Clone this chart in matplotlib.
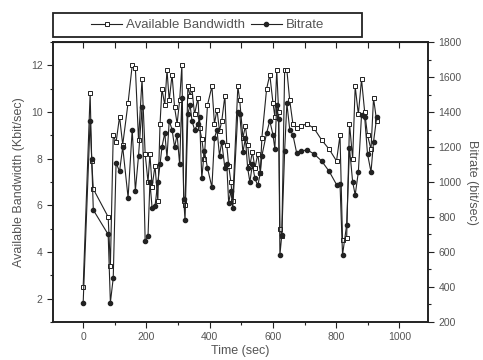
import matplotlib
matplotlib.use("Agg")
import matplotlib.pyplot as plt
from matplotlib.patches import Rectangle
from matplotlib.ticker import MultipleLocator

plt.rcParams["font.family"] = ["Liberation Sans", "DejaVu Sans"]

# values
time_sec = [0, 22, 27, 32, 79, 86, 95, 104, 115, 125, 142, 155, 165, 175, 186,
            196, 205, 211, 218, 227, 236, 243, 249, 258, 265, 272, 281, 289,
            297, 305, 312, 318, 322, 331, 338, 344, 352, 363, 368, 375, 383,
            393, 407, 415, 423, 431, 438, 448, 454, 460, 467, 473, 489, 495,
            505, 513, 520, 527, 535, 543, 552, 560, 565, 580, 590, 600, 606,
            612, 618, 622, 628, 637, 644, 653, 663, 675, 690, 707, 730, 754,
            778, 801, 812, 820, 833, 842, 852, 860, 870, 880, 890, 899, 910,
            918, 928]

bandwidth = [2.5, 10.8, 7.9, 6.7, 5.5, 3.4, 9.0, 8.7, 9.8, 8.6, 10.4, 12.0,
             11.9, 8.8, 11.4, 8.2, 7.0, 8.2, 6.8, 7.7, 6.2, 9.5, 11.0, 10.3,
             11.8, 10.5, 11.6, 10.2, 9.5, 10.5, 12.0, 6.2, 6.0, 11.1, 10.7,
             11.0, 9.9, 10.6, 9.3, 8.85, 8.0, 10.3, 11.1, 9.5, 10.1, 9.2, 9.6,
             10.7, 8.6, 7.7, 7.0, 6.2, 11.1, 10.5, 8.9, 9.4, 8.6, 7.7, 8.3,
             7.6, 8.2, 7.4, 8.9, 11.0, 11.6, 10.4, 9.8, 11.8, 10.0, 5.0, 4.7,
             11.8, 11.8, 10.5, 9.5, 9.3, 9.4, 9.5, 9.3, 8.8, 8.4, 7.9, 9.0,
             4.5, 4.6, 9.5, 8.0, 11.1, 9.9, 11.4, 10.0, 9.0, 8.4, 10.6, 9.6]

bitrate = [310, 1350, 1130, 840, 700, 310, 450, 1110, 1060, 1200, 910, 1300,
           950, 1150, 1430, 660, 690, 1000, 850, 860, 1000, 1100, 1200, 1280,
           1140, 1350, 1300, 1200, 1270, 1100, 1480, 900, 780, 1390, 1440,
           1350, 1300, 1330, 1370, 1020, 1180, 1080, 970, 1250, 1300, 1150,
           1230, 1080, 1100, 880, 950, 850, 1400, 1390, 1170, 1250, 1080,
           1000, 1100, 1020, 980, 1050, 1150, 1280, 1350, 1270, 1190, 1440,
           1360, 583, 697, 1180, 1450, 1300, 1270, 1166, 1175, 1185, 1160,
           1120, 1060, 985, 990, 583, 754, 1194, 1000, 926, 1057, 1383, 1370,
           1160, 1057, 1230, 1370]

ink = "#222222"
txt = "#555555"

fig = plt.figure(figsize=(4.83, 3.6), dpi=100)
ax = fig.add_axes([0.110, 0.106, 0.776, 0.777])
ax2 = ax.twinx()

l1, = ax.plot(time_sec, bandwidth, color=ink, lw=0.8, marker="s",
              markersize=3, markerfacecolor="white", markeredgecolor=ink,
              markeredgewidth=0.7, label="Available Bandwidth")
l2, = ax2.plot(time_sec, bitrate, color=ink, lw=0.8, marker="o",
               markersize=3, markerfacecolor=ink, markeredgecolor=ink,
               label="Bitrate")

ax.set_xlim(-95, 1090)
ax.set_ylim(1, 13)
ax2.set_ylim(200, 1800)

ax.xaxis.set_major_locator(MultipleLocator(200))
ax.xaxis.set_minor_locator(MultipleLocator(100))
ax.yaxis.set_major_locator(MultipleLocator(2))
ax.yaxis.set_minor_locator(MultipleLocator(1))
ax2.yaxis.set_major_locator(MultipleLocator(200))
ax2.yaxis.set_minor_locator(MultipleLocator(100))

for a in (ax, ax2):
    a.tick_params(which="both", direction="out", colors=ink, labelcolor=txt,
                  labelsize=7.5, width=0.8)
    a.tick_params(which="major", length=4)
    a.tick_params(which="minor", length=2.5)
    for s in a.spines.values():
        s.set_linewidth(1.2)
        s.set_color(ink)

top = ax.secondary_xaxis("top")
top.xaxis.set_major_locator(MultipleLocator(200))
top.xaxis.set_minor_locator(MultipleLocator(100))
top.tick_params(which="both", direction="in", labeltop=False, colors=ink,
                length=4, width=0.8)

ax.set_xlabel("Time (sec)", fontsize=9, color=txt, labelpad=2)
ax.set_ylabel("Available Bandwidth (Kbit/sec)", fontsize=9, color=txt)
ax2.set_ylabel("Bitrate (bit/sec)", fontsize=9, color=txt, rotation=270,
               labelpad=12)

# legend box spans from the left spine to about two thirds of the width
fig.patches.append(Rectangle((0.11, 0.897), 0.64, 0.067,
                             transform=fig.transFigure, fill=False,
                             edgecolor=ink, linewidth=1.3))
leg = fig.legend(handles=[l1, l2], loc="center", ncol=2,
                 bbox_to_anchor=(0.43, 0.930), fontsize=9.5, frameon=False,
                 handlelength=2.4, handletextpad=0.3, columnspacing=0.4)
for t in leg.get_texts():
    t.set_color(txt)

fig.savefig("out.png", dpi=100)
